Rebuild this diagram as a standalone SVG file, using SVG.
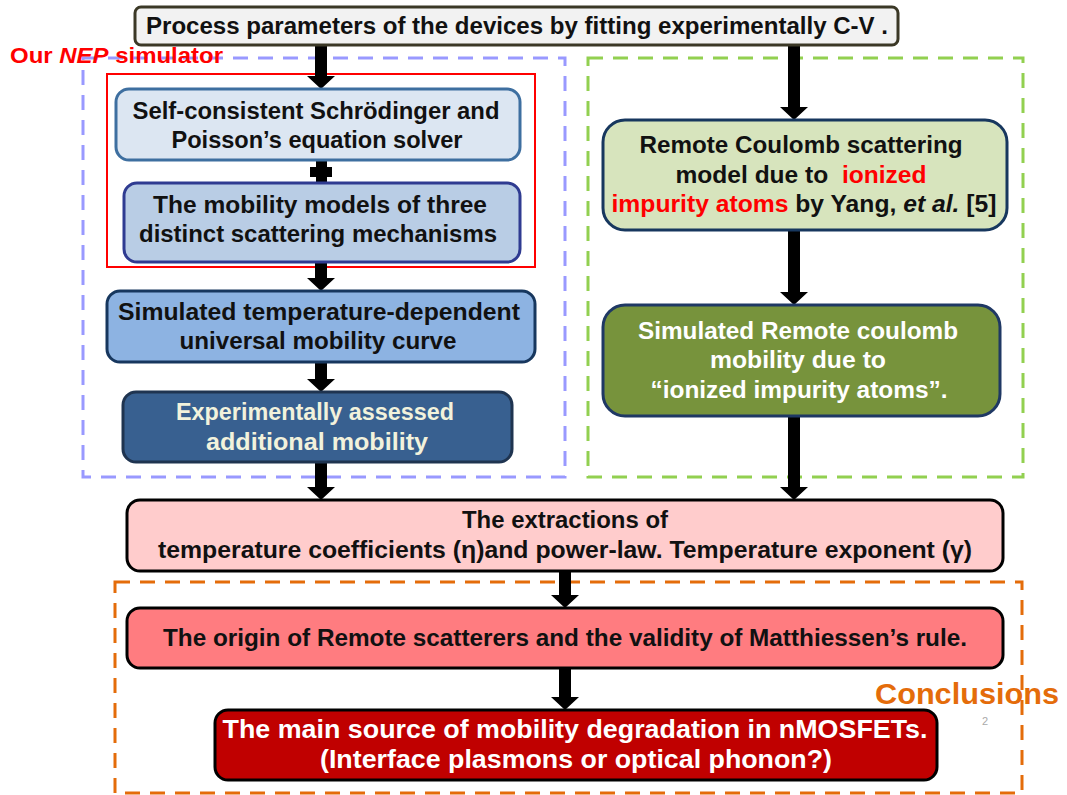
<svg xmlns="http://www.w3.org/2000/svg" width="1067" height="795" viewBox="0 0 1067 795">
<style>
  .t { font-family: "Liberation Sans", Arial, sans-serif; font-weight: bold; font-size: 23px; text-anchor: middle; fill: #111; }
  .big { font-size: 26px; fill: #ffffff; }
  .lt { fill: #f2f2dc; }
  .wt { fill: #ffffff; }
  .red { fill: #ff0000; }
  .box { stroke-width: 3; }
  .dash { fill: none; stroke-width: 3; stroke-dasharray: 15 10; }
  .arr { fill: #000; }
</style>
<rect width="1067" height="795" fill="#ffffff"/>

<g id="containers">
  <rect x="83" y="58" width="482" height="419" class="dash" stroke="#9999ff"/>
  <rect x="588" y="58" width="435" height="419" class="dash" stroke="#92d050"/>
  <rect x="115" y="582" width="907" height="211" class="dash" stroke="#e46c0a"/>
  <rect x="107" y="74" width="428" height="193" fill="none" stroke="#ff0000" stroke-width="2"/>
</g>

<g id="connectors">
  <path class="arr" d="M315 45 H327 V76 H335 L321 89 L307 76 H315 Z"/>
  <path class="arr" d="M316 160 H327 V167 H332 V177 H327 V183 H316 V177 H310 V167 H316 Z"/>
  <path class="arr" d="M315 262 H327 V278 H335 L321 291 L307 278 H315 Z"/>
  <path class="arr" d="M315 362 H327 V379 H335 L321 392 L307 379 H315 Z"/>
  <path class="arr" d="M315 462 H327 V487 H335 L321 500 L307 487 H315 Z"/>
  <path class="arr" d="M788 45 H800 V107 H808 L794 120 L780 107 H788 Z"/>
  <path class="arr" d="M788 230 H800 V292 H808 L794 305 L780 292 H788 Z"/>
  <path class="arr" d="M788 416 H800 V487 H808 L794 500 L780 487 H788 Z"/>
  <path class="arr" d="M559 571 H571 V595 H579 L565 608 L551 595 H559 Z"/>
  <path class="arr" d="M559 668 H571 V697 H579 L565 710 L551 697 H559 Z"/>
</g>

<g id="label-nep">
  <text x="10" y="63" class="t red" style="text-anchor:start;font-size:22px" textLength="213" lengthAdjust="spacingAndGlyphs">Our <tspan font-style="italic">NEP</tspan> simulator</text>
</g>

<g id="node-top">
  <rect x="135" y="7" width="763" height="38" rx="6" class="box" fill="#f2f2f2" stroke="#3b3826"/>
  <text x="517" y="34" class="t" textLength="742" lengthAdjust="spacingAndGlyphs">Process parameters of the devices by fitting experimentally C-V .</text>
</g>

<g id="node-solver">
  <rect x="116" y="89" width="404" height="71" rx="13" class="box" fill="#dce6f2" stroke="#3e6fa0"/>
  <text x="316" y="119" class="t" textLength="367" lengthAdjust="spacingAndGlyphs">Self-consistent Schrödinger and</text>
  <text x="317" y="148" class="t" textLength="291" lengthAdjust="spacingAndGlyphs">Poisson’s equation solver</text>
</g>

<g id="node-models">
  <rect x="124" y="183" width="396" height="79" rx="13" class="box" fill="#b9cde5" stroke="#2f3b91"/>
  <text x="320" y="213" class="t" textLength="334" lengthAdjust="spacingAndGlyphs">The mobility models of three</text>
  <text x="318" y="242" class="t" textLength="358" lengthAdjust="spacingAndGlyphs">distinct scattering mechanisms</text>
</g>

<g id="node-universal">
  <rect x="107" y="291" width="428" height="71" rx="13" class="box" fill="#8db3e2" stroke="#17375e"/>
  <text x="319" y="320" class="t" textLength="402" lengthAdjust="spacingAndGlyphs">Simulated temperature-dependent</text>
  <text x="318" y="349" class="t" textLength="277" lengthAdjust="spacingAndGlyphs">universal mobility curve</text>
</g>

<g id="node-additional">
  <rect x="123" y="392" width="389" height="70" rx="13" class="box" fill="#386090" stroke="#1f3450"/>
  <text x="315" y="420" class="t lt" textLength="278" lengthAdjust="spacingAndGlyphs">Experimentally assessed</text>
  <text x="317" y="450" class="t lt" textLength="222" lengthAdjust="spacingAndGlyphs">additional mobility</text>
</g>

<g id="node-rcs-model">
  <rect x="603" y="120" width="404" height="110" rx="22" class="box" fill="#d7e4bd" stroke="#17375e"/>
  <text x="801" y="153" class="t" textLength="323" lengthAdjust="spacingAndGlyphs">Remote Coulomb scattering</text>
  <text x="801" y="183" class="t" textLength="251" lengthAdjust="spacingAndGlyphs">model due to&#160; <tspan class="red">ionized</tspan></text>
  <text x="804" y="212" class="t" textLength="385" lengthAdjust="spacingAndGlyphs"><tspan class="red">impurity atoms</tspan> by Yang, <tspan font-style="italic">et al.</tspan> [5]</text>
</g>

<g id="node-rcs-sim">
  <rect x="603" y="305" width="397" height="111" rx="22" class="box" fill="#77933c" stroke="#1f3864"/>
  <text x="798" y="339" class="t wt" textLength="320" lengthAdjust="spacingAndGlyphs">Simulated Remote coulomb</text>
  <text x="798" y="368" class="t wt" textLength="176" lengthAdjust="spacingAndGlyphs">mobility due to</text>
  <text x="799" y="398" class="t wt" textLength="297" lengthAdjust="spacingAndGlyphs">“ionized impurity atoms”.</text>
</g>

<g id="node-extraction">
  <rect x="127" y="500" width="876" height="71" rx="13" class="box" fill="#ffcccc" stroke="#000"/>
  <text x="565" y="528" class="t" textLength="206" lengthAdjust="spacingAndGlyphs">The extractions of</text>
  <text x="565" y="558" class="t" textLength="814" lengthAdjust="spacingAndGlyphs">temperature coefficients (η)and power-law. Temperature exponent (γ)</text>
</g>

<g id="node-origin">
  <rect x="127" y="608" width="876" height="60" rx="13" class="box" fill="#ff7c80" stroke="#000"/>
  <text x="565" y="646" class="t" textLength="804" lengthAdjust="spacingAndGlyphs">The origin of Remote scatterers and the validity of Matthiessen’s rule.</text>
</g>

<g id="node-main">
  <rect x="215" y="710" width="722" height="70" rx="13" class="box" fill="#c00000" stroke="#000"/>
  <text x="575" y="738" class="t big" textLength="705" lengthAdjust="spacingAndGlyphs">The main source of mobility degradation in nMOSFETs.</text>
  <text x="576" y="768" class="t big" textLength="512" lengthAdjust="spacingAndGlyphs">(Interface plasmons or optical phonon?)</text>
</g>

<g id="label-conclusions">
  <text x="875" y="704" style="font-family:'Liberation Sans',Arial,sans-serif;font-weight:bold;font-size:29px;fill:#e46c0a" textLength="184" lengthAdjust="spacingAndGlyphs">Conclusions</text>
  <text x="982" y="725" style="font-family:'Liberation Sans',Arial,sans-serif;font-size:11px;fill:#aaaaaa">2</text>
</g>
</svg>
